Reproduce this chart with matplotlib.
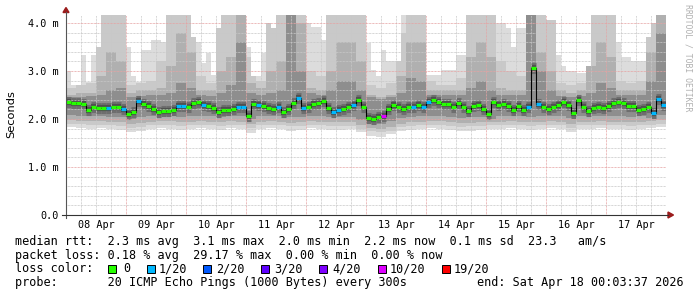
import numpy as np
import matplotlib
matplotlib.use("Agg")
import matplotlib.pyplot as plt
from matplotlib.patches import Polygon, Rectangle
from matplotlib.lines import Line2D

W, H, DPI = 697, 297, 100

# ---------------- data (2-hour steps, 08 Apr 00:00 -> 18 Apr 00:00) ----------------
median = [2.36, 2.34, 2.33, 2.31, 2.18, 2.25, 2.23, 2.23, 2.22, 2.25,
          2.24, 2.21, 2.10, 2.14, 2.38, 2.31, 2.27, 2.20, 2.14, 2.17,
          2.17, 2.19, 2.27, 2.28, 2.25, 2.33, 2.35, 2.30, 2.27, 2.22,
          2.15, 2.19, 2.19, 2.21, 2.25, 2.26, 2.06, 2.32, 2.29, 2.28,
          2.23, 2.21, 2.24, 2.15, 2.21, 2.33, 2.44, 2.22, 2.25, 2.31,
          2.33, 2.38, 2.22, 2.15, 2.19, 2.20, 2.25, 2.29, 2.40, 2.25,
          2.02, 2.00, 2.04, 2.06, 2.20, 2.29, 2.26, 2.21, 2.24, 2.26,
          2.29, 2.26, 2.35, 2.40, 2.35, 2.32, 2.31, 2.26, 2.33, 2.25,
          2.17, 2.27, 2.29, 2.21, 2.10, 2.35, 2.29, 2.32, 2.27, 2.19,
          2.27, 2.19, 2.24, 3.06, 2.32, 2.26, 2.21, 2.26, 2.29, 2.35,
          2.29, 2.12, 2.40, 2.26, 2.16, 2.22, 2.24, 2.22, 2.28, 2.33,
          2.35, 2.33, 2.28, 2.28, 2.18, 2.21, 2.25, 2.12, 2.41, 2.30]

loss = [0, 0, 0, 0, 0, 0, 0, 0, 1, 0,
        0, 1, 0, 0, 1, 0, 0, 0, 0, 0,
        0, 0, 1, 1, 0, 0, 0, 1, 0, 0,
        0, 0, 0, 0, 1, 1, 0, 0, 1, 0,
        0, 0, 1, 0, 0, 0, 1, 1, 0, 0,
        0, 0, 0, 1, 1, 0, 0, 1, 0, 0,
        0, 0, 0, 10, 0, 0, 0, 0, 0, 1,
        0, 1, 1, 0, 0, 0, 0, 0, 0, 0,
        0, 0, 0, 0, 0, 0, 0, 0, 0, 0,
        0, 0, 1, 0, 1, 0, 0, 0, 0, 0,
        0, 0, 0, 0, 0, 0, 0, 0, 0, 0,
        0, 0, 0, 0, 0, 0, 0, 1, 1, 1]

smoke_max = [3.00, 2.71, 2.71, 3.33, 2.78, 3.33, 3.50, 4.17, 4.17, 4.17,
             4.17, 4.17, 3.51, 2.90, 2.78, 3.44, 3.44, 3.65, 3.65, 3.60,
             4.17, 4.17, 4.17, 4.17, 4.17, 3.70, 3.60, 3.16, 3.37, 2.92,
             3.89, 4.17, 4.17, 4.17, 4.17, 4.17, 3.51, 2.90, 2.90, 3.37,
             4.00, 3.90, 4.17, 4.17, 4.17, 4.17, 4.17, 4.17, 3.99, 3.92,
             3.92, 3.65, 4.17, 4.17, 4.17, 4.17, 4.17, 4.17, 4.17, 4.17,
             3.58, 3.02, 2.90, 3.44, 3.20, 3.20, 3.20, 4.17, 4.17, 4.17,
             4.17, 4.17, 2.92, 2.92, 2.92, 3.02, 3.02, 3.02, 3.33, 3.33,
             4.17, 4.17, 4.17, 4.17, 4.17, 4.17, 3.99, 3.99, 3.90, 3.50,
             3.89, 3.89, 4.17, 4.17, 4.17, 4.17, 4.06, 4.06, 3.33, 3.10,
             3.00, 3.00, 2.95, 2.95, 3.10, 4.17, 4.17, 4.17, 4.17, 4.17,
             3.60, 3.30, 3.30, 3.20, 3.20, 3.20, 3.70, 4.00, 4.17, 4.17]

# 4-hour steps
smoke_hi2 = [2.65, 2.70, 2.75, 4.17, 4.17, 4.17, 2.70, 2.75, 2.80, 3.20,
             4.17, 4.17, 4.17, 2.90, 2.75, 4.17, 4.17, 4.17, 3.30, 2.80,
             4.17, 4.17, 4.17, 4.17, 3.00, 2.90, 4.17, 4.17, 4.17, 4.17,
             2.70, 2.65, 2.75, 3.80, 4.17, 4.17, 2.80, 2.70, 2.70, 2.85,
             4.17, 4.17, 4.17, 3.20, 3.00, 2.90, 4.17, 4.17, 4.17, 2.75,
             2.70, 2.75, 4.17, 4.17, 4.17, 2.80, 2.75, 2.80, 4.17, 4.17]
smoke_hi3 = [2.50, 2.55, 2.55, 2.90, 3.40, 3.20, 2.55, 2.60, 2.60, 2.65,
             3.10, 3.80, 3.40, 2.60, 2.60, 3.00, 3.30, 4.17, 2.75, 2.65,
             3.00, 3.20, 4.17, 4.00, 2.65, 2.60, 3.00, 3.60, 3.60, 3.20,
             2.50, 2.45, 2.50, 2.90, 3.60, 3.60, 2.60, 2.60, 2.60, 2.60,
             3.30, 3.60, 3.30, 2.65, 2.60, 2.60, 4.17, 3.40, 3.00, 2.60,
             2.55, 2.60, 3.10, 3.60, 3.30, 2.60, 2.60, 2.60, 3.40, 4.17]
smoke_hi4 = [2.46, 2.46, 2.48, 2.50, 2.60, 2.65, 2.46, 2.48, 2.50, 2.50,
             2.55, 2.75, 2.65, 2.50, 2.48, 2.55, 2.70, 3.60, 2.55, 2.50,
             2.55, 2.60, 4.17, 3.00, 2.55, 2.50, 2.60, 2.80, 2.80, 2.60,
             2.45, 2.42, 2.46, 2.55, 2.85, 2.80, 2.50, 2.50, 2.50, 2.50,
             2.65, 2.80, 2.60, 2.50, 2.50, 2.50, 4.17, 3.00, 2.60, 2.48,
             2.46, 2.48, 2.55, 2.75, 2.65, 2.50, 2.50, 2.50, 2.80, 3.80]
smoke_lo4 = [2.08, 2.07, 2.06, 2.06, 2.05, 2.04, 2.01, 2.04, 2.06, 2.06,
             2.06, 2.05, 2.06, 2.07, 2.06, 2.05, 2.06, 2.06, 1.99, 2.06,
             2.07, 2.06, 2.04, 2.05, 2.06, 2.06, 2.05, 2.05, 2.04, 1.97,
             1.92, 1.90, 1.95, 2.02, 2.05, 2.06, 2.07, 2.07, 2.05, 2.03,
             2.04, 2.05, 2.01, 2.06, 2.07, 2.06, 2.05, 2.06, 2.07, 2.06,
             2.02, 2.06, 2.06, 2.07, 2.06, 2.06, 2.05, 2.06, 2.02, 2.08]
smoke_lo3 = [1.97, 1.96, 1.95, 1.95, 1.94, 1.93, 1.90, 1.92, 1.94, 1.95,
             1.95, 1.93, 1.94, 1.95, 1.94, 1.93, 1.95, 1.94, 1.90, 1.94,
             1.95, 1.94, 1.92, 1.93, 1.95, 1.94, 1.93, 1.93, 1.93, 1.87,
             1.82, 1.80, 1.84, 1.90, 1.93, 1.94, 1.95, 1.95, 1.93, 1.91,
             1.92, 1.93, 1.94, 1.94, 1.95, 1.94, 1.93, 1.94, 1.95, 1.94,
             1.90, 1.94, 1.94, 1.95, 1.94, 1.94, 1.93, 1.94, 1.95, 1.97]
smoke_lo2 = [1.90, 1.89, 1.88, 1.88, 1.87, 1.86, 1.82, 1.84, 1.87, 1.88,
             1.88, 1.86, 1.87, 1.88, 1.87, 1.86, 1.88, 1.87, 1.82, 1.87,
             1.88, 1.87, 1.85, 1.86, 1.88, 1.87, 1.86, 1.86, 1.86, 1.80,
             1.74, 1.72, 1.76, 1.83, 1.86, 1.87, 1.88, 1.88, 1.86, 1.84,
             1.85, 1.86, 1.87, 1.87, 1.88, 1.87, 1.86, 1.87, 1.88, 1.87,
             1.82, 1.87, 1.87, 1.88, 1.87, 1.87, 1.86, 1.87, 1.88, 1.90]
smoke_min = [1.84, 1.82, 1.80, 1.82, 1.80, 1.78, 1.72, 1.75, 1.80, 1.82,
             1.80, 1.78, 1.80, 1.82, 1.80, 1.78, 1.82, 1.80, 1.70, 1.80,
             1.82, 1.80, 1.76, 1.78, 1.82, 1.80, 1.78, 1.78, 1.80, 1.72,
             1.65, 1.62, 1.68, 1.75, 1.78, 1.80, 1.82, 1.80, 1.78, 1.75,
             1.76, 1.78, 1.80, 1.80, 1.82, 1.80, 1.78, 1.80, 1.82, 1.80,
             1.72, 1.80, 1.80, 1.82, 1.80, 1.80, 1.78, 1.80, 1.82, 1.84]

day_labels = ["08 Apr", "09 Apr", "10 Apr", "11 Apr", "12 Apr",
              "13 Apr", "14 Apr", "15 Apr", "16 Apr", "17 Apr"]
y_ticks = [0.0, 1.0, 2.0, 3.0, 4.0]
y_labels = ["0.0", "1.0 m", "2.0 m", "3.0 m", "4.0 m"]

loss_keys = [0, 1, 2, 3, 4, 10, 19]
loss_names = ["0", "1/20", "2/20", "3/20", "4/20", "10/20", "19/20"]
loss_colors = ["#26ff00", "#00b8ff", "#0059ff", "#5e00ff", "#7e00ff", "#dd00ff", "#ff0000"]

# ---------------- figure ----------------
MONO = "DejaVu Sans Mono"
fig = plt.figure(figsize=(W / DPI, H / DPI), dpi=DPI)
fig.patch.set_facecolor("white")
L, R, T, B = 66, 666, 15, 215
ax = fig.add_axes([L / W, 1 - B / H, (R - L) / W, (B - T) / H])
ax.set_facecolor("white")
ymax = 200 / 48
ax.set_xlim(0, 240)
ax.set_ylim(0, ymax)
for s in ax.spines.values():
    s.set_visible(False)

x2 = np.arange(0, 241, 2)
x4 = np.arange(0, 241, 4)
def ext(a):
    a = np.asarray(a, float)
    return np.append(a, a[-1])

mx = np.asarray(smoke_max)
hi2 = np.minimum(np.repeat(smoke_hi2, 2), mx)
hi3 = np.minimum(np.repeat(smoke_hi3, 2), hi2)
hi4 = np.minimum(np.repeat(smoke_hi4, 2), hi3)
lo2 = np.repeat(smoke_lo2, 2)
lo3 = np.repeat(smoke_lo3, 2)
lo4 = np.repeat(smoke_lo4, 2)

ax.fill_between(x4, ext(smoke_min), ext(smoke_lo2), step="post", color="#dcdcdc", lw=0, zorder=1)
ax.fill_between(x2, ext(lo2), ext(mx), step="post", color="#dcdcdc", lw=0, zorder=1)
ax.fill_between(x2, ext(lo2), ext(hi2), step="post", color="#c9c9c9", lw=0, zorder=1.2)
ax.fill_between(x2, ext(lo3), ext(hi3), step="post", color="#b0b0b0", lw=0, zorder=1.4)
ax.fill_between(x2, ext(lo4), ext(hi4), step="post", color="#8e8e8e", lw=0, zorder=1.6)
ax.hlines(median, x2[:-1], x2[1:], colors="#6e6e6e", lw=8.0, zorder=1.7)
ax.hlines(median, x2[:-1], x2[1:], colors="#505050", lw=4.5, zorder=1.8)

# grid (drawn over smoke)
dot = (0, (0.72, 0.72))
for h in range(6, 240, 6):
    red = (h % 24 == 0)
    ax.axvline(h, color="#e6a3a3" if red else "#c8c8c8", lw=0.72, ls=dot, zorder=3)
for k in range(1, 21):
    v = k * 0.2
    if v > ymax:
        break
    red = (k % 5 == 0)
    ax.axhline(v, color="#e6a3a3" if red else "#c8c8c8", lw=0.72, ls=dot, zorder=3)

# median line with loss colours
ax.step(x2, ext(median), where="post", color="black", lw=0.8, zorder=5)
cmap = dict(zip(loss_keys, loss_colors))
ax.hlines(median, x2[:-1], x2[1:], colors=[cmap[l] for l in loss], lw=2.3, zorder=6)

# ticks
ax.set_xticks([12 + 24 * k for k in range(10)])
ax.set_xticklabels(day_labels, family=MONO, fontsize=7.3)
ax.set_yticks(y_ticks)
ax.set_yticklabels(y_labels, family=MONO, fontsize=7.3)
ax.tick_params(axis="x", length=0, pad=3.8)
ax.tick_params(axis="y", length=0, pad=5)

# axes lines and arrows
def fx(x): return x / W
def fy(y): return 1 - y / H
fig.add_artist(Line2D([fx(66), fx(66)], [fy(218), fy(12)], color="#555555", lw=0.8))
fig.add_artist(Line2D([fx(62), fx(668)], [fy(215), fy(215)], color="#333333", lw=0.8))
fig.add_artist(Polygon([[fx(63), fy(12.5)], [fx(69), fy(12.5)], [fx(66), fy(7.5)]],
                       closed=True, color="#9b1c1c", transform=fig.transFigure))
fig.add_artist(Polygon([[fx(668), fy(212)], [fx(668), fy(218)], [fx(673.5), fy(215)]],
                       closed=True, color="#9b1c1c", transform=fig.transFigure))

fig.text(fx(11), fy(114), "Seconds", rotation=90, ha="center", va="center",
         family="DejaVu Sans", fontsize=8.2)
fig.text(fx(688), fy(4), "RRDTOOL / TOBI OETIKER", rotation=270, ha="center", va="top",
         family=MONO, fontsize=5.9, color="#b0b0b0")

# legend lines
LS = 8.5
fig.text(fx(15), fy(241), "median rtt:  2.3 ms avg  3.1 ms max  2.0 ms min  2.2 ms now  0.1 ms sd  23.3   am/s",
         family=MONO, fontsize=LS, va="center", ha="left")
fig.text(fx(15), fy(255), "packet loss: 0.18 % avg  29.17 % max  0.00 % min  0.00 % now",
         family=MONO, fontsize=LS, va="center", ha="left")
fig.text(fx(15), fy(268.5), "loss color:", family=MONO, fontsize=LS, va="center", ha="left")
sq_x = [108, 147, 203, 261, 319, 378, 442]
lab_x = [123, 159, 216, 274, 332, 390, 454]
for sx, lx, name, col in zip(sq_x, lab_x, loss_names, loss_colors):
    fig.add_artist(Rectangle((fx(sx), fy(272.5)), 8 / W, 8 / H, facecolor=col,
                             edgecolor="black", lw=0.7, transform=fig.transFigure))
    fig.text(fx(lx), fy(268.5), name, family=MONO, fontsize=LS, va="center", ha="left")
fig.text(fx(15), fy(282.5), "probe:       20 ICMP Echo Pings (1000 Bytes) every 300s",
         family=MONO, fontsize=LS, va="center", ha="left")
fig.text(fx(477), fy(282.5), "end: Sat Apr 18 00:03:37 2026",
         family=MONO, fontsize=LS, va="center", ha="left")

fig.savefig("out.png", dpi=DPI, facecolor="white")
